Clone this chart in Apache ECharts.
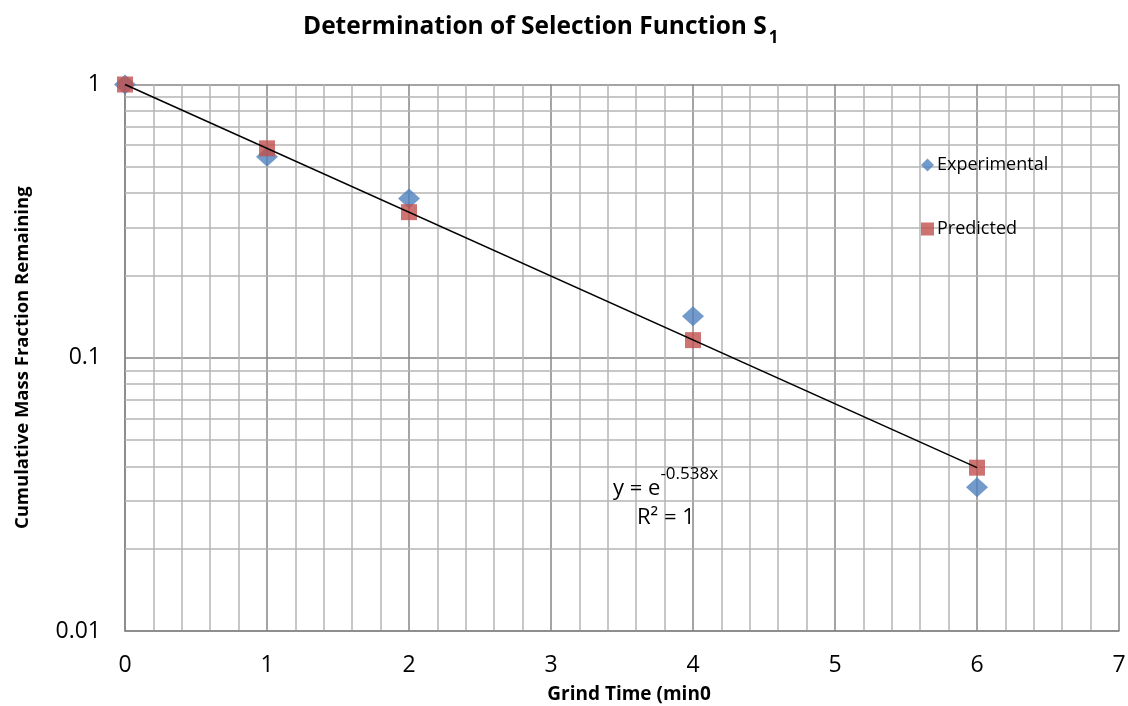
<!DOCTYPE html>
<html><head><meta charset="utf-8">
<script src="https://cdn.jsdelivr.net/npm/echarts@6/dist/echarts.min.js"></script>
<style>html,body{margin:0;padding:0;background:#fff}#c{width:1128px;height:706px}</style>
</head><body><div id="c"></div>
<script>
const grindTime = [0, 1, 2, 4, 6];
const experimental = [1.0, 0.544, 0.383, 0.142, 0.0336];
const predicted = [1.0, 0.584, 0.341, 0.116, 0.0396];
const trendX = [0, 6];
const trendY = [1.0, 0.0396];
const yMinorGrid = [0.02,0.03,0.04,0.05,0.06,0.07,0.08,0.09,0.2,0.3,0.4,0.5,0.6,0.7,0.8,0.9];
const FONT = 'Open Sans';

const chart = echarts.init(document.getElementById('c'));
chart.setOption({
  animation: false,
  backgroundColor: '#fff',
  title: {
    text: '{a|Determination of Selection Function S}{b|1}',
    left: 298, top: 10,
    textStyle: {
      rich: {
        a: {fontFamily: FONT, fontSize: 24.5, fontWeight: 'bold', color: '#000', lineHeight: 32, verticalAlign: 'top'},
        b: {fontFamily: FONT, fontSize: 17, fontWeight: 'bold', color: '#000', lineHeight: 32, verticalAlign: 'bottom', padding: [12,0,0,2]}
      }
    }
  },
  grid: {left: 125, right: 9, top: 84.5, bottom: 75, containLabel: false, outerBoundsMode: 'none'},
  legend: {
    orient: 'vertical', left: 916, top: 151, itemGap: 46,
    textStyle: {fontFamily: FONT, fontSize: 18, color: '#000', padding: [0,0,0,-2]},
    itemWidth: 13, itemHeight: 13,
    data: [
      {name: 'Experimental', icon: 'diamond', itemStyle: {color: '#4f81bd'}},
      {name: 'Predicted', icon: 'rect', itemStyle: {color: '#c0504d'}}
    ]
  },
  xAxis: {
    type: 'value', min: 0, max: 7, interval: 1,
    name: 'Grind Time (min0', nameLocation: 'middle', nameGap: 54,
    nameTextStyle: {fontFamily: FONT, fontSize: 19, fontWeight: 'bold', color: '#000', padding: [0,0,0,14]},
    axisLine: {show: true, lineStyle: {color: '#868686', width: 1.5}},
    axisTick: {show: false},
    axisLabel: {fontFamily: FONT, fontSize: 23, color: '#000', margin: 23},
    splitLine: {show: true, lineStyle: {color: '#868686', width: 1.5}},
    minorTick: {show: false, splitNumber: 5},
    minorSplitLine: {show: true, lineStyle: {color: '#b5b5b5', width: 1.5}}
  },
  yAxis: {
    type: 'log', logBase: 10, min: 0.01, max: 1,
    name: 'Cumulative Mass Fraction Remaining', nameLocation: 'middle', nameGap: 93, nameRotate: 90,
    nameTextStyle: {fontFamily: FONT, fontSize: 18.5, fontWeight: 'bold', color: '#000'},
    axisLine: {show: true, lineStyle: {color: '#868686', width: 1.5}},
    axisTick: {show: false},
    axisLabel: {fontFamily: FONT, fontSize: 23, color: '#000', margin: 24,
      formatter: v => (v >= 1 ? '1' : String(+v.toPrecision(1)))},
    splitLine: {show: true, lineStyle: {color: '#868686', width: 1.5}}
  },
  graphic: [
    {type: 'text', left: 613, top: 466, z: 10,
      style: {text: '{a|y = e}{s|-0.538x}', rich: {
        a: {fontFamily: FONT, fontSize: 22, fill: '#000', lineHeight: 34, verticalAlign: 'bottom'},
        s: {fontFamily: FONT, fontSize: 17, fill: '#000', lineHeight: 34, verticalAlign: 'top'}}}},
    {type: 'text', left: 637, top: 507, z: 10,
      style: {text: 'R² = 1', fontFamily: FONT, fontSize: 22, fill: '#000'}}
  ],
  series: [
    {
      name: 'Experimental', type: 'scatter', symbol: 'diamond', symbolSize: [22, 20], z: 3,
      itemStyle: {color: '#4f81bd'},
      data: grindTime.map((x, i) => [x, experimental[i]]),
      markLine: {
        silent: true, symbol: 'none', label: {show: false}, z: 1,
        lineStyle: {color: '#b5b5b5', width: 1.5, type: 'solid'},
        data: yMinorGrid.map(v => ({yAxis: v}))
      }
    },
    {
      name: 'Predicted', type: 'scatter', symbol: 'rect', symbolSize: 16, z: 4,
      itemStyle: {color: '#c0504d'},
      data: grindTime.map((x, i) => [x, predicted[i]])
    },
    {
      name: 'Trend', type: 'line', symbol: 'none', z: 5,
      lineStyle: {color: '#000', width: 1.5},
      data: trendX.map((x, i) => [x, trendY[i]])
    }
  ]
});
</script></body></html>
